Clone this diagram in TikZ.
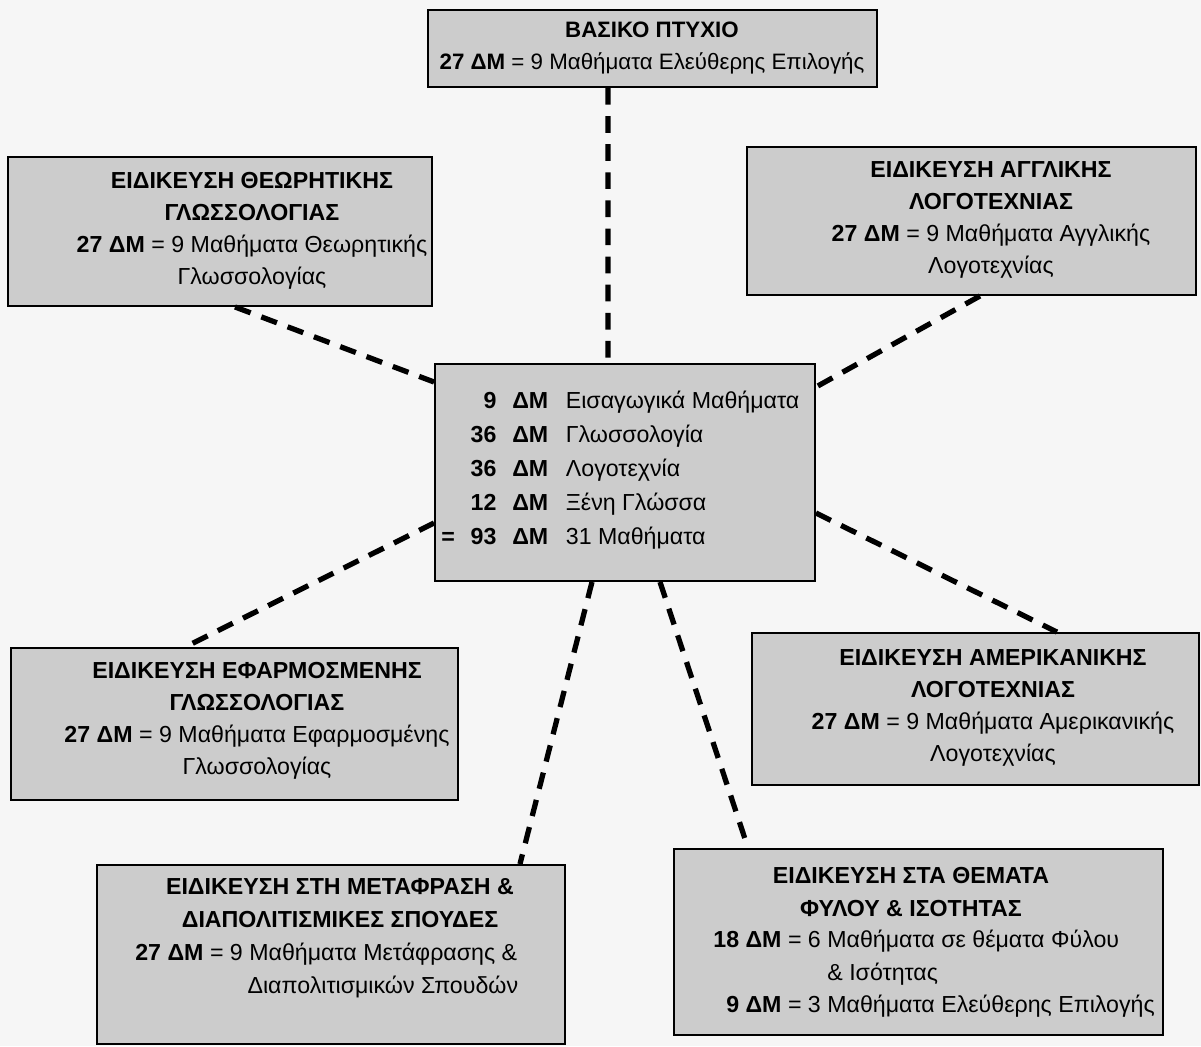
\documentclass[tikz,border=0pt]{standalone}
\usepackage{fontspec}
\setmainfont{Liberation Sans}
\definecolor{boxgray}{RGB}{204,204,204}
\definecolor{pagebg}{RGB}{246,246,246}
\tikzset{
  unitbox/.style = {draw=black, line width=1.1pt, fill=boxgray, inner sep=0pt},
  boxtext/.style = {align=center, inner sep=0pt, font=\fontsize{13.2}{18.3}\selectfont},
  link/.style = {line width=3pt, dash pattern=on 9.5pt off 6.5pt}
}
\begin{document}
\begin{tikzpicture}[x=0.02cm, y=-0.02cm]
\fill[pagebg] (0,0) rectangle (1201,1046);
\useasboundingbox (0,0) rectangle (1201,1046);

% boxes
\node[unitbox, minimum width=8.98cm, minimum height=1.54cm] (basic) at (652.5,48.5) {};
\node[unitbox, minimum width=8.48cm, minimum height=2.98cm] (theor) at (220,231.5) {};
\node[unitbox, minimum width=8.98cm, minimum height=2.96cm] (engl) at (971.5,221) {};
\node[unitbox, minimum width=7.6cm, minimum height=4.34cm] (core) at (625,472.5) {};
\node[unitbox, minimum width=8.94cm, minimum height=3.04cm] (appl) at (234.5,724) {};
\node[unitbox, minimum width=8.94cm, minimum height=3.04cm] (amer) at (975.5,709) {};
\node[unitbox, minimum width=9.36cm, minimum height=3.58cm] (transl) at (331,954.5) {};
\node[unitbox, minimum width=9.78cm, minimum height=3.72cm] (gender) at (918.5,942) {};

% texts
\node[boxtext, font=\fontsize{12.7}{18.6}\selectfont] (basictxt) at (652,48) {\textbf{ΒΑΣΙΚΟ ΠΤΥΧΙΟ}\\\textbf{27 ΔΜ} = 9 Μαθήματα Ελεύθερης Επιλογής};
\node[boxtext] (theortxt) at (252,231) {\textbf{ΕΙΔΙΚΕΥΣΗ ΘΕΩΡΗΤΙΚΗΣ}\\\textbf{ΓΛΩΣΣΟΛΟΓΙΑΣ}\\\textbf{27 ΔΜ} = 9 Μαθήματα Θεωρητικής\\Γλωσσολογίας};
\node[boxtext] (engltxt) at (991,220) {\textbf{ΕΙΔΙΚΕΥΣΗ ΑΓΓΛΙΚΗΣ}\\\textbf{ΛΟΓΟΤΕΧΝΙΑΣ}\\\textbf{27 ΔΜ} = 9 Μαθήματα Αγγλικής\\Λογοτεχνίας};
\node[boxtext, anchor=west] (coretxt) at (441,470) {\fontsize{13.2}{19.3}\selectfont
  \begin{tabular}{@{}l@{\hspace{9pt}}r@{\hspace{9pt}}l@{\hspace{10pt}}l@{}}
   & \textbf{9} & \textbf{ΔΜ} & Εισαγωγικά Μαθήματα\\
   & \textbf{36} & \textbf{ΔΜ} & Γλωσσολογία\\
   & \textbf{36} & \textbf{ΔΜ} & Λογοτεχνία\\
   & \textbf{12} & \textbf{ΔΜ} & Ξένη Γλώσσα\\
  \textbf{=} & \textbf{93} & \textbf{ΔΜ} & 31 Μαθήματα
  \end{tabular}};
\node[boxtext] (appltxt) at (257,721) {\textbf{ΕΙΔΙΚΕΥΣΗ ΕΦΑΡΜΟΣΜΕΝΗΣ}\\\textbf{ΓΛΩΣΣΟΛΟΓΙΑΣ}\\\textbf{27 ΔΜ} = 9 Μαθήματα Εφαρμοσμένης\\Γλωσσολογίας};
\node[boxtext] (amertxt) at (993,708) {\textbf{ΕΙΔΙΚΕΥΣΗ ΑΜΕΡΙΚΑΝΙΚΗΣ}\\\textbf{ΛΟΓΟΤΕΧΝΙΑΣ}\\\textbf{27 ΔΜ} = 9 Μαθήματα Αμερικανικής\\Λογοτεχνίας};
\node[boxtext] (translhead) at (340,903) {\textbf{ΕΙΔΙΚΕΥΣΗ ΣΤΗ ΜΕΤΑΦΡΑΣΗ \&}\\\textbf{ΔΙΑΠΟΛΙΤΙΣΜΙΚΕΣ ΣΠΟΥΔΕΣ}};
\node[boxtext, anchor=north west] (translbody) at (135,938) {%
  \begin{tabular}{@{}r@{ }l@{}}
  \textbf{27 ΔΜ} = & 9 Μαθήματα Μετάφρασης \&\\
   & \hspace{10pt}Διαπολιτισμικών Σπουδών
  \end{tabular}};
\node[boxtext] (genderhead) at (911,892) {\textbf{ΕΙΔΙΚΕΥΣΗ ΣΤΑ ΘΕΜΑΤΑ}\\\textbf{ΦΥΛΟΥ \& ΙΣΟΤΗΤΑΣ}};
\node[boxtext, anchor=north west] (genderbody) at (713,925) {%
  \begin{tabular}{@{}r@{ }l@{}}
  \textbf{18 ΔΜ} = & 6 Μαθήματα σε θέματα Φύλου\\
   & \phantom{6 }\& Ισότητας\\
  \textbf{9 ΔΜ} = & 3 Μαθήματα Ελεύθερης Επιλογής
  \end{tabular}};

% connectors
\draw[link] ([xshift=-0.89cm]basic.south) -- ([xshift=-0.34cm]core.north);
\draw[link] ([xshift=0.3cm]theor.south) -- ([yshift=1.81cm]core.west);
\draw[link] ([xshift=0.17cm]engl.south) -- ([yshift=1.71cm]core.east);
\draw[link] ([yshift=-1.01cm]core.west) -- ([xshift=-0.99cm]appl.north);
\draw[link] ([yshift=-0.81cm]core.east) -- ([xshift=1.63cm]amer.north);
\draw[link] ([xshift=-0.66cm]core.south) -- ([xshift=3.78cm]transl.north);
\draw[link] ([xshift=0.7cm]core.south) -- ([xshift=-3.41cm]gender.north);
\end{tikzpicture}
\end{document}
